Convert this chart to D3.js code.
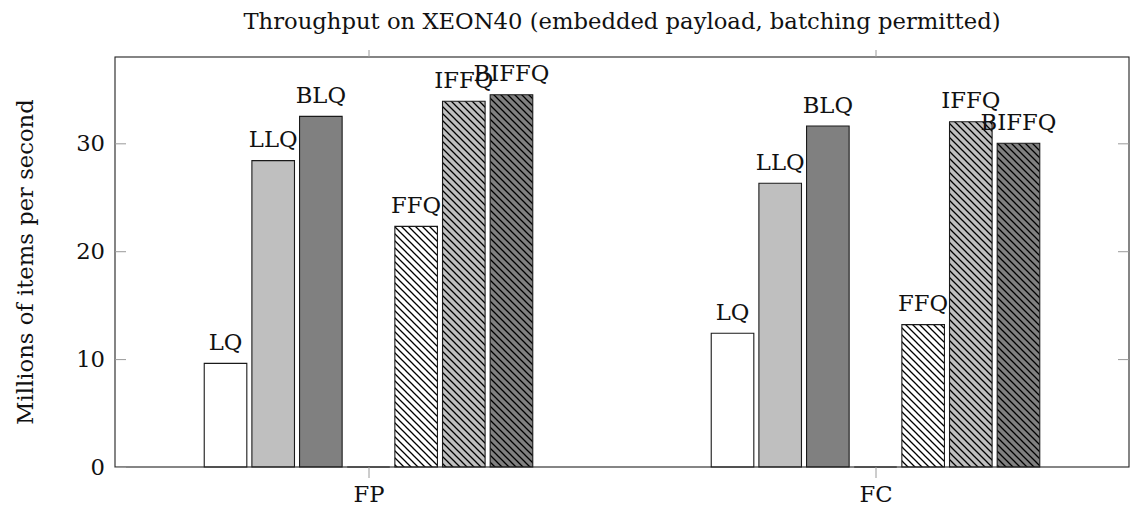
<!DOCTYPE html>
<html>
<head>
<meta charset="utf-8">
<script src="https://cdn.jsdelivr.net/npm/d3@7"></script>
<style>
  html, body { margin: 0; padding: 0; background: #fff; }
  svg { display: block; }
</style>
</head>
<body>
<svg id="chart" width="1134" height="515"></svg>
<script>
// Benchmark groups (x axis) and queue variants (one bar per variant per group)
const groups = ["FP", "FC"];
const seriesNames = ["LQ", "LLQ", "BLQ", "", "FFQ", "IFFQ", "BIFFQ"];
// Throughput in millions of items per second, one array per group
const valuesFP = [9.6, 28.4, 32.5, 0, 22.3, 33.9, 34.5];
const valuesFC = [12.4, 26.3, 31.6, 0, 13.2, 32.0, 30.0];
const yTicks = [0, 10, 20, 30];
const titleText = "Throughput on XEON40 (embedded payload, batching permitted)";
const yLabel = "Millions of items per second";

// Styling per series: fill colour and whether the bar is hatched
const fills = ["#ffffff", "#bfbfbf", "#808080", "#ffffff", "#ffffff", "#bfbfbf", "#808080"];
const hatched = [false, false, false, false, true, true, true];

const groupValues = [valuesFP, valuesFC];

const FONT = "'DejaVu Serif', serif";
const FS = 22.7;

const svg = d3.select("#chart");
const margin = { left: 115, right: 1129, top: 57, bottom: 467 };

const x = d3.scaleLinear().domain([-0.5, 1.5]).range([margin.left, margin.right]);
const y = d3.scaleLinear().domain([0, 38]).range([margin.bottom, margin.top]);

const barStep = 0.094;   // spacing between bars in group units
const barWidth = 0.084;  // bar width in group units

// Hatch patterns (north-west lines) over each base fill
const defs = svg.append("defs");
const patternFills = ["#ffffff", "#bfbfbf", "#808080"];
patternFills.forEach((c, i) => {
  const p = defs.append("pattern")
    .attr("id", "hatch" + i)
    .attr("patternUnits", "userSpaceOnUse")
    .attr("width", 7).attr("height", 7);
  p.append("rect").attr("width", 7).attr("height", 7).attr("fill", c);
  p.append("path")
    .attr("d", "M-1,-1 L8,8 M-8,-1 L1,8 M6,-1 L15,8")
    .attr("stroke", "#000").attr("stroke-width", 1.3);
});
function fillFor(i) {
  if (!hatched[i]) return fills[i];
  return "url(#hatch" + patternFills.indexOf(fills[i]) + ")";
}

// Flatten to bar records
const bars = [];
groups.forEach((g, gi) => {
  seriesNames.forEach((s, si) => {
    bars.push({ group: gi, series: si, name: s, value: groupValues[gi][si] });
  });
});

// Bars drawn as closed paths so zero-height bars still show their outline
const barG = svg.append("g");
barG.selectAll("path")
  .data(bars)
  .join("path")
  .attr("d", d => {
    const cx = d.group + (d.series - 3) * barStep;
    const x0 = x(cx - barWidth / 2), x1 = x(cx + barWidth / 2);
    const y0 = y(0), y1 = y(d.value);
    return `M${x0},${y0}L${x0},${y1}L${x1},${y1}L${x1},${y0}Z`;
  })
  .attr("fill", d => fillFor(d.series))
  .attr("stroke", "#1a1a1a")
  .attr("stroke-width", 1.1);

// Series names above each bar
barG.selectAll("text")
  .data(bars.filter(d => d.name !== ""))
  .join("text")
  .attr("x", d => x(d.group + (d.series - 3) * barStep))
  .attr("y", d => y(d.value) - 13.5)
  .attr("text-anchor", "middle")
  .attr("font-family", FONT)
  .attr("font-size", FS)
  .attr("fill", "#111")
  .text(d => d.name);

// Frame
svg.append("rect")
  .attr("x", margin.left).attr("y", margin.top)
  .attr("width", margin.right - margin.left)
  .attr("height", margin.bottom - margin.top)
  .attr("fill", "none").attr("stroke", "#222").attr("stroke-width", 1.1);

const tickLen = 11;
const tickColor = "#9a9a9a";

// Y axis ticks (inside, both sides) and labels
const yAxisLeft = d3.axisLeft(y).tickValues(yTicks).tickSize(-tickLen).tickPadding(10).tickFormat(d3.format("d"));
const gyl = svg.append("g").attr("transform", `translate(${margin.left},0)`).call(yAxisLeft);
gyl.select(".domain").remove();
gyl.selectAll(".tick line").attr("stroke", tickColor);
gyl.selectAll(".tick text").attr("font-size", FS).attr("font-family", FONT).attr("fill", "#111");

const yAxisRight = d3.axisRight(y).tickValues(yTicks.filter(v => v > 0)).tickSize(-tickLen).tickFormat("");
const gyr = svg.append("g").attr("transform", `translate(${margin.right},0)`).call(yAxisRight);
gyr.select(".domain").remove();
gyr.selectAll(".tick line").attr("stroke", tickColor);

// X axis ticks (outside, top and bottom) and group labels
const xAxisBottom = d3.axisBottom(x).tickValues([0, 1]).tickSize(tickLen).tickPadding(8).tickFormat((d, i) => groups[i]);
const gxb = svg.append("g").attr("transform", `translate(0,${margin.bottom})`).call(xAxisBottom);
gxb.select(".domain").remove();
gxb.selectAll(".tick line").attr("stroke", tickColor);
gxb.selectAll(".tick text").attr("font-size", FS).attr("font-family", FONT).attr("fill", "#111");

const xAxisTop = d3.axisTop(x).tickValues([0, 1]).tickSize(tickLen - 4).tickFormat("");
const gxt = svg.append("g").attr("transform", `translate(0,${margin.top})`).call(xAxisTop);
gxt.select(".domain").remove();
gxt.selectAll(".tick line").attr("stroke", tickColor);

// Title
svg.append("text")
  .attr("x", (margin.left + margin.right) / 2)
  .attr("y", 29)
  .attr("text-anchor", "middle")
  .attr("font-family", FONT)
  .attr("font-size", FS)
  .attr("fill", "#111")
  .text(titleText);

// Y axis label
svg.append("text")
  .attr("transform", `translate(33,${(margin.top + margin.bottom) / 2}) rotate(-90)`)
  .attr("text-anchor", "middle")
  .attr("font-family", FONT)
  .attr("font-size", FS)
  .attr("fill", "#111")
  .text(yLabel);
</script>
</body>
</html>
